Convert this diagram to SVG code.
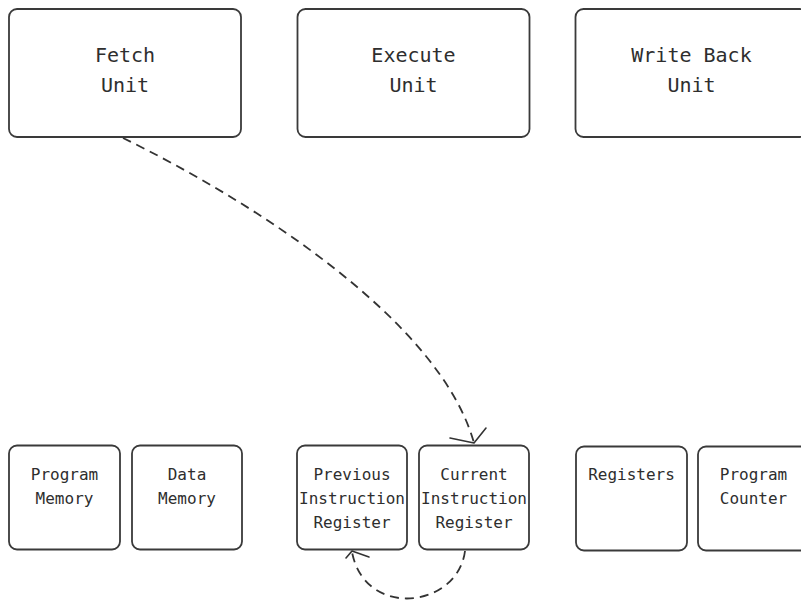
<svg xmlns="http://www.w3.org/2000/svg" width="801" height="604" viewBox="0 0 801 604">
  <style>
    .box { fill: #ffffff; stroke: #3a3a3a; stroke-width: 1.8; }
    .big { font-family: "DejaVu Sans Mono", "Liberation Mono", monospace; font-size: 20px; fill: #2e2e2e; text-anchor: middle; }
    .small { font-family: "DejaVu Sans Mono", "Liberation Mono", monospace; font-size: 16px; fill: #2e2e2e; text-anchor: middle; }
    .link { fill: none; stroke: #333333; stroke-width: 1.8; stroke-dasharray: 9 6; }
    .head { fill: none; stroke: #333333; stroke-width: 1.6; stroke-linecap: round; stroke-linejoin: round; }
  </style>
  <rect width="801" height="604" fill="#ffffff"/>

  <!-- pipeline units -->
  <g id="fetch-unit">
    <rect class="box" x="9" y="9" width="232" height="128" rx="8"/>
    <text class="big" x="125" y="62">Fetch</text>
    <text class="big" x="125" y="92">Unit</text>
  </g>
  <g id="execute-unit">
    <rect class="box" x="297.5" y="9" width="232" height="128" rx="8"/>
    <text class="big" x="413.5" y="62">Execute</text>
    <text class="big" x="413.5" y="92">Unit</text>
  </g>
  <g id="write-back-unit">
    <rect class="box" x="575.5" y="9" width="232" height="128" rx="8"/>
    <text class="big" x="691.5" y="62">Write Back</text>
    <text class="big" x="691.5" y="92">Unit</text>
  </g>

  <!-- storage blocks -->
  <g id="program-memory">
    <rect class="box" x="9" y="445.5" width="111" height="104" rx="8"/>
    <text class="small" x="64.5" y="480">Program</text>
    <text class="small" x="64.5" y="504">Memory</text>
  </g>
  <g id="data-memory">
    <rect class="box" x="132" y="445.5" width="110" height="104" rx="8"/>
    <text class="small" x="187" y="480">Data</text>
    <text class="small" x="187" y="504">Memory</text>
  </g>
  <g id="previous-instruction-register">
    <rect class="box" x="297" y="445.5" width="110" height="104" rx="8"/>
    <text class="small" x="352" y="480">Previous</text>
    <text class="small" x="352" y="504">Instruction</text>
    <text class="small" x="352" y="528">Register</text>
  </g>
  <g id="current-instruction-register">
    <rect class="box" x="419" y="445.5" width="110" height="104" rx="8"/>
    <text class="small" x="474" y="480">Current</text>
    <text class="small" x="474" y="504">Instruction</text>
    <text class="small" x="474" y="528">Register</text>
  </g>
  <g id="registers">
    <rect class="box" x="576" y="446.5" width="111" height="104" rx="8"/>
    <text class="small" x="631.5" y="480">Registers</text>
  </g>
  <g id="program-counter">
    <rect class="box" x="698" y="446.5" width="111" height="104" rx="8"/>
    <text class="small" x="753.5" y="480">Program</text>
    <text class="small" x="753.5" y="504">Counter</text>
  </g>

  <!-- connectors -->
  <g id="connectors">
    <path class="link" d="M123,138 C250,200 440,320 474,443"/>
    <polyline class="head" points="450,438 474,443 486,428"/>
    <path class="link" d="M465,551 C458,608 365,620 352,552"/>
    <polyline class="head" points="346,558 352,551 369,557"/>
  </g>
</svg>
